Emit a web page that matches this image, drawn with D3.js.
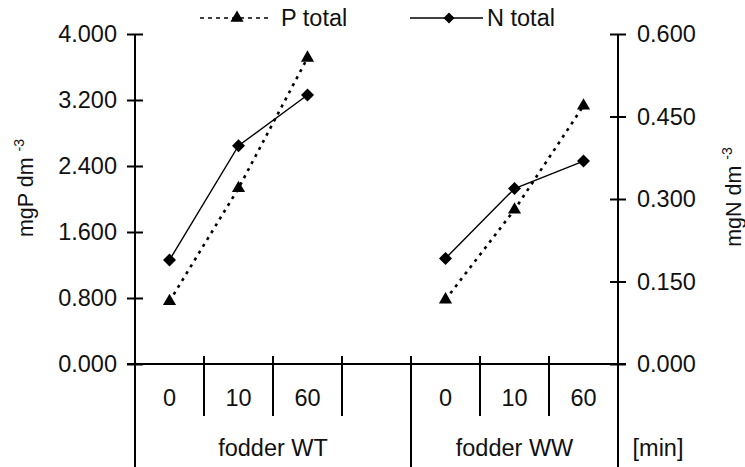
<!DOCTYPE html>
<html><head><meta charset="utf-8">
<script src="https://cdn.jsdelivr.net/npm/d3@7"></script>
<style>body{margin:0;background:#fff}svg{display:block;font-family:"Liberation Sans",Arial,sans-serif}</style>
</head><body><svg id="c" width="745" height="467"></svg>
<script>
const groups = ["fodder WT", "fodder WW"];
const times = ["0", "10", "60"];
const pTotalWT = [0.76, 2.13, 3.71];
const pTotalWW = [0.78, 1.87, 3.13];
const nTotalWT = [0.189, 0.397, 0.489];
const nTotalWW = [0.192, 0.319, 0.369];
const leftTicks = [0, 0.8, 1.6, 2.4, 3.2, 4.0];
const rightTicks = [0, 0.15, 0.3, 0.45, 0.6];
const slots = ["WT|0","WT|10","WT|60","gap","WW|0","WW|10","WW|60"];

const svg = d3.select("#c");
const x = d3.scaleBand().domain(slots).range([135, 618]).padding(0);
const yL = d3.scaleLinear().domain([0, 4]).range([364, 34]);
const yR = d3.scaleLinear().domain([0, 0.6]).range([364, 34]);
const fs = 23.5;
const ink = "#111";
const ff = "Liberation Sans, Arial, sans-serif";

// Left axis
const gL = svg.append("g").attr("transform","translate(135,0)")
  .call(d3.axisLeft(yL).tickValues(leftTicks).tickFormat(d3.format(".3f")).tickSize(8).tickPadding(10));
gL.select(".domain").remove();
gL.selectAll(".tick line").attr("x1",8).attr("x2",-8).attr("stroke-width",2);
gL.selectAll(".tick text").attr("font-size",fs).attr("font-family",ff).attr("fill",ink);
svg.append("line").attr("x1",135).attr("x2",135).attr("y1",yL(4)).attr("y2",467).attr("stroke","#000").attr("stroke-width",2);

// Right axis
const gR = svg.append("g").attr("transform","translate(618,0)")
  .call(d3.axisRight(yR).tickValues(rightTicks).tickFormat(d3.format(".3f")).tickSize(8).tickPadding(11));
gR.select(".domain").remove();
gR.selectAll(".tick line").attr("x1",-8).attr("x2",8).attr("stroke-width",2);
gR.selectAll(".tick text").attr("font-size",fs).attr("font-family",ff).attr("fill",ink);
svg.append("line").attr("x1",618).attr("x2",618).attr("y1",yR(0.6)).attr("y2",467).attr("stroke","#000").attr("stroke-width",2);

// Horizontal axis
svg.append("line").attr("x1",127).attr("x2",626).attr("y1",yL(0)).attr("y2",yL(0)).attr("stroke","#000").attr("stroke-width",2);

// Category separators
const bw = x.bandwidth();
slots.forEach((s, i) => {
  if (i === slots.length - 1) return;
  const b = x(s) + bw;
  const long = s === "gap";
  svg.append("line").attr("x1",b).attr("x2",b).attr("y1",yL(0)-8).attr("y2", long ? 467 : 416)
    .attr("stroke","#000").attr("stroke-width",2);
});

// Category labels
slots.filter(s => s !== "gap").forEach(s => {
  svg.append("text").attr("x", x(s)+bw/2).attr("y",398).attr("dy","0.35em").attr("text-anchor","middle")
    .attr("font-size",fs).attr("fill",ink).text(s.split("|")[1]);
});
// Group labels (centered between long separators)
const groupSpans = [[x.range()[0], x("gap") + bw], [x("gap") + bw, x.range()[1]]];
groups.forEach((g, i) => {
  svg.append("text").attr("x", (groupSpans[i][0] + groupSpans[i][1]) / 2).attr("y",448).attr("dy","0.35em")
    .attr("text-anchor","middle").attr("font-size",fs).attr("fill",ink).text(g);
});
svg.append("text").attr("x",658).attr("y",448).attr("dy","0.35em").attr("text-anchor","middle")
  .attr("font-size",fs).attr("fill",ink).text("[min]");

// Axis titles
const tL = svg.append("text").attr("transform","translate(33,188) rotate(-90)").attr("text-anchor","middle")
  .attr("font-size",21.5).attr("fill",ink);
tL.append("tspan").text("mgP dm ");
tL.append("tspan").attr("font-size",14).attr("dy",-9).text("-3");
const tR = svg.append("text").attr("transform","translate(741,197) rotate(-90)").attr("text-anchor","middle")
  .attr("font-size",21.5).attr("fill",ink);
tR.append("tspan").text("mgN dm ");
tR.append("tspan").attr("font-size",14).attr("dy",-9).text("-3");

// Series
const tri = d3.symbol().type(d3.symbolTriangle).size(75);
const dia = (cx, cy, r) => `M${cx},${cy-r}L${cx+r},${cy}L${cx},${cy+r}L${cx-r},${cy}Z`;
const lineP = d3.line().x(d => d[0]).y(d => yL(d[1]));
const lineN = d3.line().x(d => d[0]).y(d => yR(d[1]));

[["WT", pTotalWT, nTotalWT], ["WW", pTotalWW, nTotalWW]].forEach(([key, p, n]) => {
  const xs = times.map(t => x(key+"|"+t) + bw/2);
  const pd = xs.map((xx, i) => [xx, p[i]]);
  const nd = xs.map((xx, i) => [xx, n[i]]);
  svg.append("path").attr("d", lineP(pd)).attr("fill","none").attr("stroke","#000")
    .attr("stroke-width",2.6).attr("stroke-dasharray","3,5");
  svg.append("path").attr("d", lineN(nd)).attr("fill","none").attr("stroke","#000").attr("stroke-width",1.4);
  pd.forEach(d => svg.append("path").attr("d", tri()).attr("transform",`translate(${d[0]},${yL(d[1])})`).attr("fill","#000"));
  nd.forEach(d => svg.append("path").attr("d", dia(d[0], yR(d[1]), 6.5)).attr("fill","#000"));
});

// Legend
svg.append("line").attr("x1",200).attr("x2",272).attr("y1",18).attr("y2",18).attr("stroke","#000")
  .attr("stroke-width",1.6).attr("stroke-dasharray","4,4");
svg.append("path").attr("d", tri()).attr("transform","translate(237,18)").attr("fill","#000");
svg.append("text").attr("x",281).attr("y",18).attr("dy","0.35em").attr("font-size",fs).attr("fill",ink).text("P total");
svg.append("line").attr("x1",410).attr("x2",483).attr("y1",18).attr("y2",18).attr("stroke","#000").attr("stroke-width",1.4);
svg.append("path").attr("d", dia(449, 18, 5.5)).attr("fill","#000");
svg.append("text").attr("x",487).attr("y",18).attr("dy","0.35em").attr("font-size",fs).attr("fill",ink).text("N total");
</script></body></html>
